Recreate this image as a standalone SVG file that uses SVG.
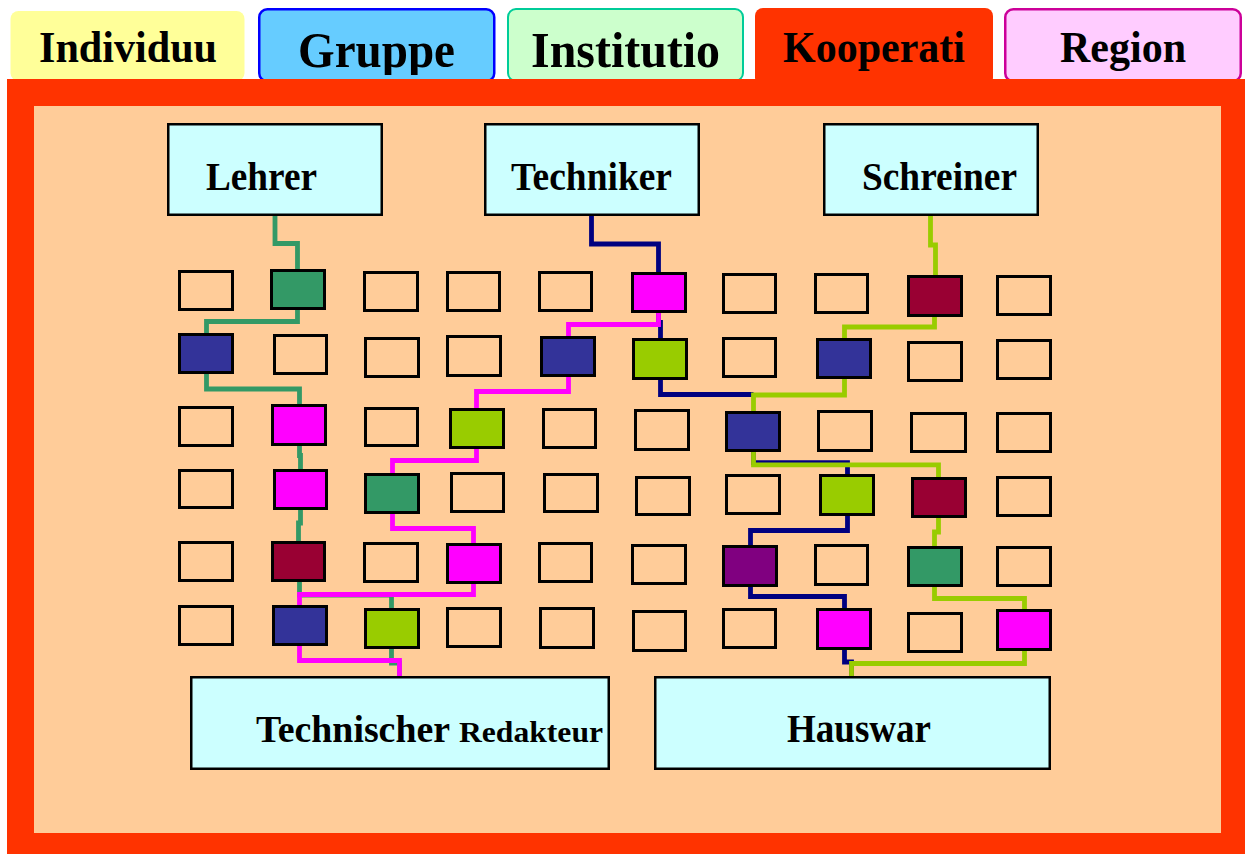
<svg xmlns="http://www.w3.org/2000/svg" width="1245" height="854" viewBox="0 0 1245 854">
<style>
text{font-family:"Liberation Serif","Times New Roman",serif;font-weight:bold;fill:#000}
.node rect{fill:#CCFFFF;stroke:#000;stroke-width:2.5}
.cell rect{stroke:#000;stroke-width:3;fill:none}
.cell.g rect{fill:#339966}
.cell.n rect{fill:#333399}
.cell.m rect{fill:#FF00FF}
.cell.y rect{fill:#99CC00}
.cell.r rect{fill:#990033}
.cell.p rect{fill:#800080}
#connectors path{fill:none;stroke-width:4.8;stroke-linejoin:miter;stroke-linecap:butt}
.cg{stroke:#339966}.cn{stroke:#000080}.cy{stroke:#99CC00}.cm{stroke:#FF00FF}
</style>
<defs>
<clipPath id="clipTab"><rect x="258" y="9" width="237" height="66"/></clipPath>
</defs>
<rect width="1245" height="854" fill="#FFFFFF"/>
<g id="tab-individuu"><rect x="10.5" y="11" width="234" height="70" rx="8" fill="#FFFF99"/><text x="39" y="62" font-size="45" textLength="178" lengthAdjust="spacingAndGlyphs">Individuu</text></g>
<g id="tab-gruppe"><rect x="259.25" y="9.25" width="235" height="72" rx="8" fill="#66CCFF" stroke="#0000FF" stroke-width="2.5"/><text x="298" y="67" font-size="50" textLength="157" lengthAdjust="spacingAndGlyphs" clip-path="url(#clipTab)">Gruppe</text></g>
<g id="tab-institutio"><rect x="508" y="9" width="235" height="72" rx="8" fill="#CCFFCC" stroke="#00CC99" stroke-width="2"/><text x="531" y="67" font-size="50" textLength="189" lengthAdjust="spacingAndGlyphs">Institutio</text></g>
<g id="tab-kooperati"><rect x="755" y="8" width="238" height="78" rx="8" fill="#FF3300"/><text x="783" y="62" font-size="45" textLength="182" lengthAdjust="spacingAndGlyphs">Kooperati</text></g>
<g id="tab-region"><rect x="1005.25" y="9.25" width="235.5" height="72" rx="8" fill="#FFCCFF" stroke="#CC0099" stroke-width="2.5"/><text x="1060" y="62" font-size="45" textLength="126" lengthAdjust="spacingAndGlyphs">Region</text></g>
<rect x="7" y="79" width="1238" height="775" fill="#FF3300"/>
<rect x="34" y="106" width="1187" height="727" fill="#FFCC99"/>
<g id="connectors">
<path class="cg" d="M275,216V243.5H297.5V269M297.5,310V321.5H206.5V333M206.5,374V389H299.5V404M299.5,446V455.5H300.5V469M300.5,510V523H298.5V541M299.5,582V595H391.5V608M391.5,649V663H399.5V676"/>
<path class="cn" d="M591.5,216V244H658.5V272M658.5,313V322.5H660.5V338M660.5,380V394.5H753.5M753.5,452V462.6H847.5V474M847.5,516V530.5H750.5V545M750.5,587V596.5H844.5V608M844.5,650V662H851.5V676"/>
<path class="cy" d="M930.5,216V245H935.5V275M934.5,317V327H844.5V338M844.5,379V395H753.5V411M753.5,452V464.8H938.5V477M938.5,518V532H934.5V546M934.5,587V598.5H1024.5V609M1024.5,651V663.5H851.5V676"/>
<path class="cm" d="M658.5,313V324.5H568.5V336M568.5,377V391.5H476.5V408M476.5,449V460.5H392.5V473M392.5,514V528.5H473.5V543M473.5,584V594.5H299.5V605M299.5,646V660.5H399.5V676"/>
</g>
<g id="lehrer" class="node"><rect x="168.25" y="124.25" width="213.5" height="90.5"/><text x="206" y="190" font-size="39" textLength="111" lengthAdjust="spacingAndGlyphs">Lehrer</text></g>
<g id="techniker" class="node"><rect x="485.25" y="124.25" width="213.5" height="90.5"/><text x="511" y="190" font-size="39" textLength="161" lengthAdjust="spacingAndGlyphs">Techniker</text></g>
<g id="schreiner" class="node"><rect x="824.25" y="124.25" width="213.5" height="90.5"/><text x="862" y="190" font-size="39" textLength="155" lengthAdjust="spacingAndGlyphs">Schreiner</text></g>
<g id="technischer-redakteur" class="node"><rect x="191.25" y="677.25" width="417.5" height="91.5"/><text y="742"><tspan x="256" font-size="38" textLength="194" lengthAdjust="spacingAndGlyphs">Technischer</tspan><tspan x="459" font-size="30" textLength="144" lengthAdjust="spacingAndGlyphs">Redakteur</tspan></text></g>
<g id="hauswar" class="node"><rect x="655.25" y="677.25" width="394.5" height="91.5"/><text x="787" y="742" font-size="39" textLength="144" lengthAdjust="spacingAndGlyphs">Hauswar</text></g>
<g id="r1c1" class="cell"><rect x="179.5" y="271.5" width="53" height="38"/></g>
<g id="r1c2" class="cell g"><rect x="271.5" y="270.5" width="53" height="38"/></g>
<g id="r1c3" class="cell"><rect x="364.5" y="272.5" width="53" height="38"/></g>
<g id="r1c4" class="cell"><rect x="447.5" y="272.5" width="52" height="38"/></g>
<g id="r1c5" class="cell"><rect x="539.5" y="272.5" width="52" height="38"/></g>
<g id="r1c6" class="cell m"><rect x="632.5" y="273.5" width="53" height="38"/></g>
<g id="r1c7" class="cell"><rect x="723.5" y="274.5" width="52" height="38"/></g>
<g id="r1c8" class="cell"><rect x="815.5" y="274.5" width="52" height="38"/></g>
<g id="r1c9" class="cell r"><rect x="908.5" y="276.5" width="53" height="39"/></g>
<g id="r1c10" class="cell"><rect x="997.5" y="276.5" width="53" height="38"/></g>
<g id="r2c1" class="cell n"><rect x="179.5" y="334.5" width="53" height="38"/></g>
<g id="r2c2" class="cell"><rect x="274.5" y="335.5" width="52" height="38"/></g>
<g id="r2c3" class="cell"><rect x="365.5" y="338.5" width="53" height="38"/></g>
<g id="r2c4" class="cell"><rect x="447.5" y="336.5" width="53" height="39"/></g>
<g id="r2c5" class="cell n"><rect x="541.5" y="337.5" width="53" height="38"/></g>
<g id="r2c6" class="cell y"><rect x="633.5" y="339.5" width="53" height="39"/></g>
<g id="r2c7" class="cell"><rect x="723.5" y="338.5" width="52" height="38"/></g>
<g id="r2c8" class="cell n"><rect x="817.5" y="339.5" width="53" height="38"/></g>
<g id="r2c9" class="cell"><rect x="908.5" y="342.5" width="53" height="38"/></g>
<g id="r2c10" class="cell"><rect x="997.5" y="340.5" width="53" height="38"/></g>
<g id="r3c1" class="cell"><rect x="179.5" y="407.5" width="53" height="38"/></g>
<g id="r3c2" class="cell m"><rect x="272.5" y="405.5" width="53" height="39"/></g>
<g id="r3c3" class="cell"><rect x="365.5" y="408.5" width="52" height="37"/></g>
<g id="r3c4" class="cell y"><rect x="450.5" y="409.5" width="53" height="38"/></g>
<g id="r3c5" class="cell"><rect x="543.5" y="409.5" width="52" height="38"/></g>
<g id="r3c6" class="cell"><rect x="635.5" y="410.5" width="53" height="39"/></g>
<g id="r3c7" class="cell n"><rect x="726.5" y="412.5" width="53" height="38"/></g>
<g id="r3c8" class="cell"><rect x="818.5" y="411.5" width="53" height="39"/></g>
<g id="r3c9" class="cell"><rect x="911.5" y="413.5" width="54" height="38"/></g>
<g id="r3c10" class="cell"><rect x="997.5" y="413.5" width="53" height="38"/></g>
<g id="r4c1" class="cell"><rect x="179.5" y="470.5" width="53" height="37"/></g>
<g id="r4c2" class="cell m"><rect x="274.5" y="470.5" width="52" height="38"/></g>
<g id="r4c3" class="cell g"><rect x="365.5" y="474.5" width="53" height="38"/></g>
<g id="r4c4" class="cell"><rect x="451.5" y="473.5" width="52" height="38"/></g>
<g id="r4c5" class="cell"><rect x="544.5" y="474.5" width="53" height="37"/></g>
<g id="r4c6" class="cell"><rect x="636.5" y="477.5" width="53" height="37"/></g>
<g id="r4c7" class="cell"><rect x="726.5" y="475.5" width="53" height="38"/></g>
<g id="r4c8" class="cell y"><rect x="820.5" y="475.5" width="53" height="39"/></g>
<g id="r4c9" class="cell r"><rect x="912.5" y="478.5" width="53" height="38"/></g>
<g id="r4c10" class="cell"><rect x="997.5" y="477.5" width="53" height="38"/></g>
<g id="r5c1" class="cell"><rect x="179.5" y="542.5" width="53" height="38"/></g>
<g id="r5c2" class="cell r"><rect x="272.5" y="542.5" width="52" height="38"/></g>
<g id="r5c3" class="cell"><rect x="364.5" y="543.5" width="53" height="38"/></g>
<g id="r5c4" class="cell m"><rect x="447.5" y="544.5" width="53" height="38"/></g>
<g id="r5c5" class="cell"><rect x="539.5" y="543.5" width="52" height="38"/></g>
<g id="r5c6" class="cell"><rect x="632.5" y="545.5" width="53" height="38"/></g>
<g id="r5c7" class="cell p"><rect x="723.5" y="546.5" width="53" height="39"/></g>
<g id="r5c8" class="cell"><rect x="815.5" y="545.5" width="52" height="39"/></g>
<g id="r5c9" class="cell g"><rect x="908.5" y="547.5" width="53" height="38"/></g>
<g id="r5c10" class="cell"><rect x="997.5" y="547.5" width="53" height="38"/></g>
<g id="r6c1" class="cell"><rect x="179.5" y="606.5" width="53" height="38"/></g>
<g id="r6c2" class="cell n"><rect x="273.5" y="606.5" width="53" height="38"/></g>
<g id="r6c3" class="cell y"><rect x="365.5" y="609.5" width="53" height="38"/></g>
<g id="r6c4" class="cell"><rect x="447.5" y="608.5" width="53" height="38"/></g>
<g id="r6c5" class="cell"><rect x="540.5" y="608.5" width="53" height="39"/></g>
<g id="r6c6" class="cell"><rect x="633.5" y="611.5" width="52" height="39"/></g>
<g id="r6c7" class="cell"><rect x="723.5" y="609.5" width="52" height="38"/></g>
<g id="r6c8" class="cell m"><rect x="817.5" y="609.5" width="53" height="39"/></g>
<g id="r6c9" class="cell"><rect x="908.5" y="613.5" width="53" height="38"/></g>
<g id="r6c10" class="cell m"><rect x="997.5" y="610.5" width="53" height="39"/></g>
</svg>
